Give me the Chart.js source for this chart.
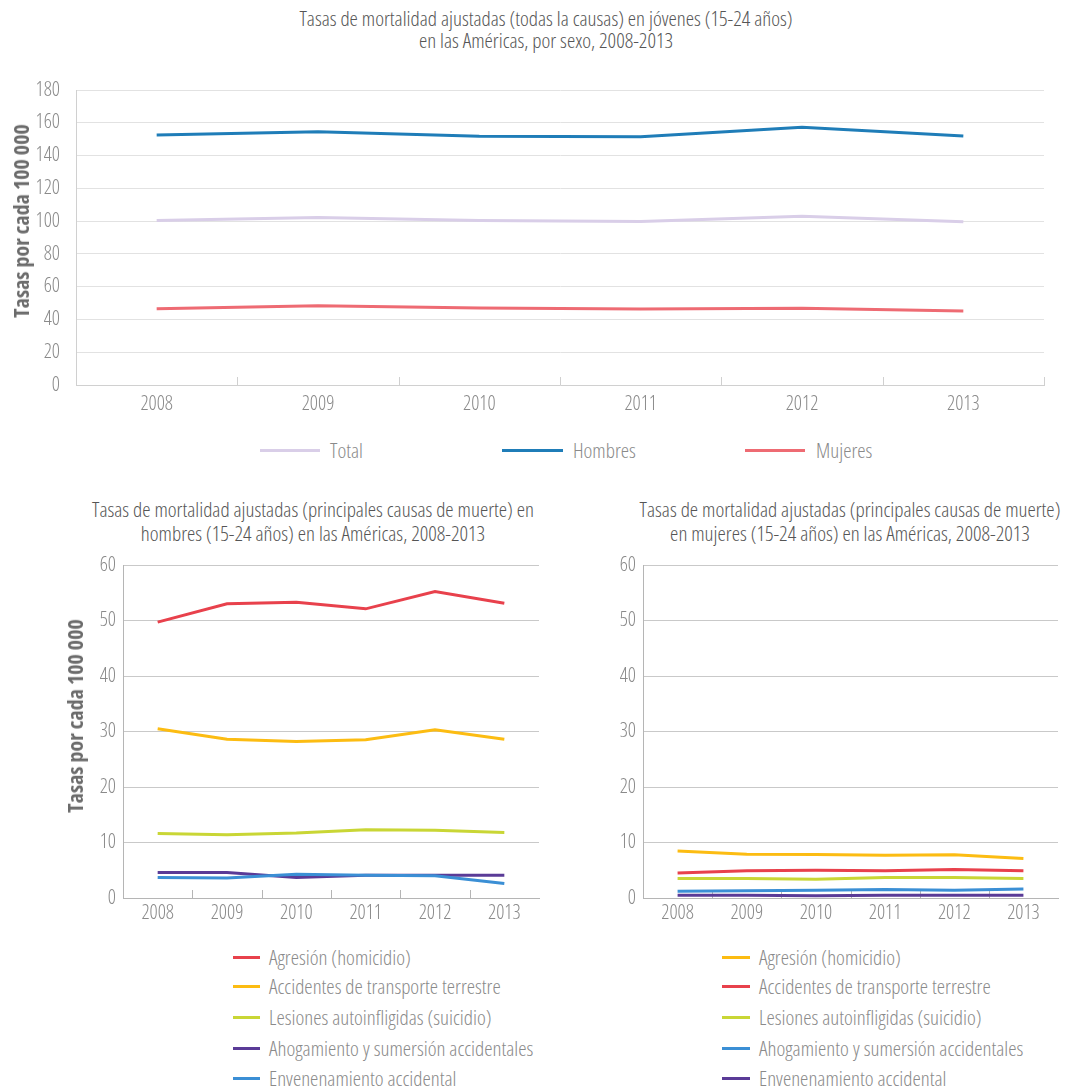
<!DOCTYPE html>
<html>
<head>
<meta charset="utf-8">
<script src="https://cdn.jsdelivr.net/npm/chart.js@4"></script>
<style>
  body { margin: 0; background: #fff; }
  #page { position: relative; width: 1067px; height: 1089px; font-family: 'Open Sans', sans-serif; font-stretch: condensed; font-weight: 300; color: #8c8c8c; }
  .box { position: absolute; }
  .title { position: absolute; text-align: center; color: #555; font-size: 21px; white-space: nowrap; }
  .ytitle { position: absolute; transform: translate(-50%, -50%) rotate(-90deg); font-size: 22px; font-weight: 700; color: #6b6b6b; white-space: nowrap; line-height: 26px; }
  .leg { position: absolute; font-size: 21px; color: #8a8a8a; white-space: nowrap; }
  .leg span.ln { position: absolute; height: 3px; top: 50%; margin-top: -1.5px; }
</style>
</head>
<body>
<div id="page">
  <div class="title" style="left:246px; width:600px; top:7px; line-height:22px;">Tasas de mortalidad ajustadas (todas la causas) en jóvenes (15-24 años)<br>en las Américas, por sexo, 2008-2013</div>
  <div class="box" style="left:0; top:0; width:1067px; height:428px;"><canvas id="c1"></canvas></div>
  <div class="ytitle" style="left:20px; top:221px;">Tasas por cada 100 000</div>
  <div id="leg1"></div>

  <div class="title" style="left:13px; width:600px; top:497px; line-height:24px;">Tasas de mortalidad ajustadas (principales causas de muerte) en<br>hombres (15-24 años) en las Américas, 2008-2013</div>
  <div class="title" style="left:550px; width:600px; top:497px; line-height:24px;">Tasas de mortalidad ajustadas (principales causas de muerte)<br>en mujeres (15-24 años) en las Américas, 2008-2013</div>
  <div class="box" style="left:0; top:545px; width:545px; height:382px;"><canvas id="c2"></canvas></div>
  <div class="box" style="left:545px; top:545px; width:522px; height:382px;"><canvas id="c3"></canvas></div>
  <div class="ytitle" style="left:74px; top:716px;">Tasas por cada 100 000</div>
  <div id="leg2"></div>
  <div id="leg3"></div>
</div>
<script>
// años
const years = ['2008', '2009', '2010', '2011', '2012', '2013'];

// gráfico superior: todas las causas
const total   = [100.4, 102.2, 100.4, 99.8, 103.0, 99.6];
const hombres = [152.6, 154.5, 151.8, 151.4, 157.3, 152.0];
const mujeres = [46.5, 48.4, 47.0, 46.3, 46.8, 45.1];

// hombres, principales causas
const causasH = ['Agresión (homicidio)', 'Accidentes de transporte terrestre', 'Lesiones autoinfligidas (suicidio)', 'Ahogamiento y sumersión accidentales', 'Envenenamiento accidental'];
const agresionH       = [49.7, 53.0, 53.3, 52.1, 55.2, 53.1];
const transporteH     = [30.5, 28.6, 28.2, 28.5, 30.3, 28.6];
const suicidioH       = [11.6, 11.4, 11.7, 12.3, 12.2, 11.8];
const ahogamientoH    = [4.6, 4.6, 3.7, 4.1, 4.1, 4.1];
const envenenamientoH = [3.7, 3.6, 4.3, 4.1, 4.0, 2.6];

// mujeres, principales causas
const causasM = ['Agresión (homicidio)', 'Accidentes de transporte terrestre', 'Lesiones autoinfligidas (suicidio)', 'Ahogamiento y sumersión accidentales', 'Envenenamiento accidental'];
const agresionM       = [8.45, 7.9, 7.85, 7.7, 7.8, 7.1];
const transporteM     = [4.5, 4.9, 5.0, 4.9, 5.15, 4.9];
const suicidioM       = [3.5, 3.5, 3.4, 3.7, 3.7, 3.5];
const ahogamientoM    = [1.2, 1.3, 1.4, 1.55, 1.4, 1.6];
const envenenamientoM = [0.5, 0.5, 0.4, 0.5, 0.5, 0.5];

const FONT = "'Open Sans', sans-serif";
const LIGHT = '300 condensed';   // Open Sans condensada, peso ligero
const RED = '#e8414c', YEL = '#fcbc12', LIME = '#c9d635', PURP = '#5a3b97', BLUE = '#3b8fd5';

// marcas cortas del eje x, hacia dentro del área
const innerTicks = {
  id: 'innerTicks',
  beforeDatasetsDraw(chart, args, opts) {
    const { ctx, chartArea: { left, right, bottom } } = chart;
    const n = chart.data.labels.length;
    const step = (right - left) / n;
    ctx.save();
    ctx.strokeStyle = opts.color;
    ctx.lineWidth = 1;
    ctx.beginPath();
    const last = opts.last ? n : n - 1;
    for (let i = 1; i <= last; i++) {
      const x = Math.round(left + i * step) + 0.5;
      ctx.moveTo(x, bottom);
      ctx.lineTo(x, bottom - opts.len);
    }
    ctx.stroke();
    ctx.restore();
  },
};

function line(label, data, color, width) {
  return {
    label, data,
    borderColor: color, backgroundColor: color,
    borderWidth: width, pointRadius: 0, tension: 0, fill: false,
  };
}

function makeChart(id, datasets, o) {
  return new Chart(document.getElementById(id), {
    type: 'line',
    data: { labels: years, datasets },
    plugins: [innerTicks],
    options: {
      responsive: true,
      maintainAspectRatio: false,
      animation: false,
      layout: { padding: o.padding },
      plugins: {
        legend: { display: false },
        tooltip: { enabled: false },
        innerTicks: { color: o.axisColor, len: 8, last: o.lastTick },
      },
      scales: {
        x: {
          offset: true,
          grid: { display: false, drawTicks: false },
          border: { display: true, color: o.axisColor, width: 1 },
          ticks: { color: '#8a8a8a', font: { family: FONT, size: o.xFont, weight: LIGHT }, padding: o.xPad, maxRotation: 0 },
          afterFit(s) { s.height = o.xHeight; s.paddingLeft = 0; s.paddingRight = 0; },
        },
        y: {
          min: 0, max: o.max,
          grid: { color: o.gridColor, lineWidth: 1, drawTicks: false },
          border: { display: true, color: o.axisColor, width: 1 },
          ticks: { stepSize: o.step, color: '#8a8a8a', font: { family: FONT, size: o.yFont, weight: LIGHT }, padding: o.yPad },
          afterFit(s) { s.width = o.yWidth; s.paddingTop = 0; s.paddingBottom = 0; },
        },
      },
    },
  });
}

makeChart('c1', [
  line('Total', total, '#d9cee8', 3),
  line('Hombres', hombres, '#1f7db8', 3),
  line('Mujeres', mujeres, '#ee6b73', 3),
], {
  padding: { top: 90, right: 23, bottom: 0, left: 0 },
  max: 180, step: 20, yWidth: 76, xHeight: 43, yFont: 20, xFont: 20, yPad: 16, xPad: 7,
  gridColor: '#e2e2e2', axisColor: '#d0d0d0', lastTick: true,
});

makeChart('c2', [
  line(causasH[0], agresionH, RED, 3),
  line(causasH[1], transporteH, YEL, 3),
  line(causasH[2], suicidioH, LIME, 3),
  line(causasH[4], envenenamientoH, BLUE, 3),
  line(causasH[3], ahogamientoH, PURP, 3),
], {
  padding: { top: 20, right: 6, bottom: 0, left: 0 },
  max: 60, step: 10, yWidth: 123, xHeight: 29, yFont: 20, xFont: 20, yPad: 7, xPad: 3,
  gridColor: '#c9c9c9', axisColor: '#b5b5b5', lastTick: false,
});

makeChart('c3', [
  line(causasM[0], agresionM, YEL, 3),
  line(causasM[1], transporteM, RED, 3),
  line(causasM[2], suicidioM, LIME, 3),
  line(causasM[3], ahogamientoM, BLUE, 3),
  line(causasM[4], envenenamientoM, PURP, 3),
], {
  padding: { top: 20, right: 9, bottom: 0, left: 0 },
  max: 60, step: 10, yWidth: 98, xHeight: 29, yFont: 20, xFont: 20, yPad: 7, xPad: 3,
  gridColor: '#c9c9c9', axisColor: '#b5b5b5', lastTick: false,
});

// leyendas en HTML
function legendItem(parent, text, color, x, y, lineW, gap) {
  const d = document.createElement('div');
  d.className = 'leg';
  d.style.left = x + 'px';
  d.style.top = (y - 13) + 'px';
  d.style.height = '26px';
  d.style.lineHeight = '26px';
  d.style.paddingLeft = (lineW + gap) + 'px';
  const s = document.createElement('span');
  s.className = 'ln';
  s.style.left = '0';
  s.style.width = lineW + 'px';
  s.style.background = color;
  d.appendChild(s);
  d.appendChild(document.createTextNode(text));
  parent.appendChild(d);
}

const leg1 = document.getElementById('leg1');
legendItem(leg1, 'Total', '#d9cee8', 260, 450, 60, 10);
legendItem(leg1, 'Hombres', '#1f7db8', 502, 450, 61, 10);
legendItem(leg1, 'Mujeres', '#ee6b73', 745, 450, 60, 11);

const rows = [957, 986, 1017, 1048, 1078];
const colH = [RED, YEL, LIME, PURP, BLUE];
const colM = [YEL, RED, LIME, BLUE, PURP];
const leg2 = document.getElementById('leg2');
const leg3 = document.getElementById('leg3');
causasH.forEach((c, i) => legendItem(leg2, c, colH[i], 233, rows[i], 27, 9));
causasM.forEach((c, i) => legendItem(leg3, c, colM[i], 722, rows[i], 28, 9));
</script>
</body>
</html>
